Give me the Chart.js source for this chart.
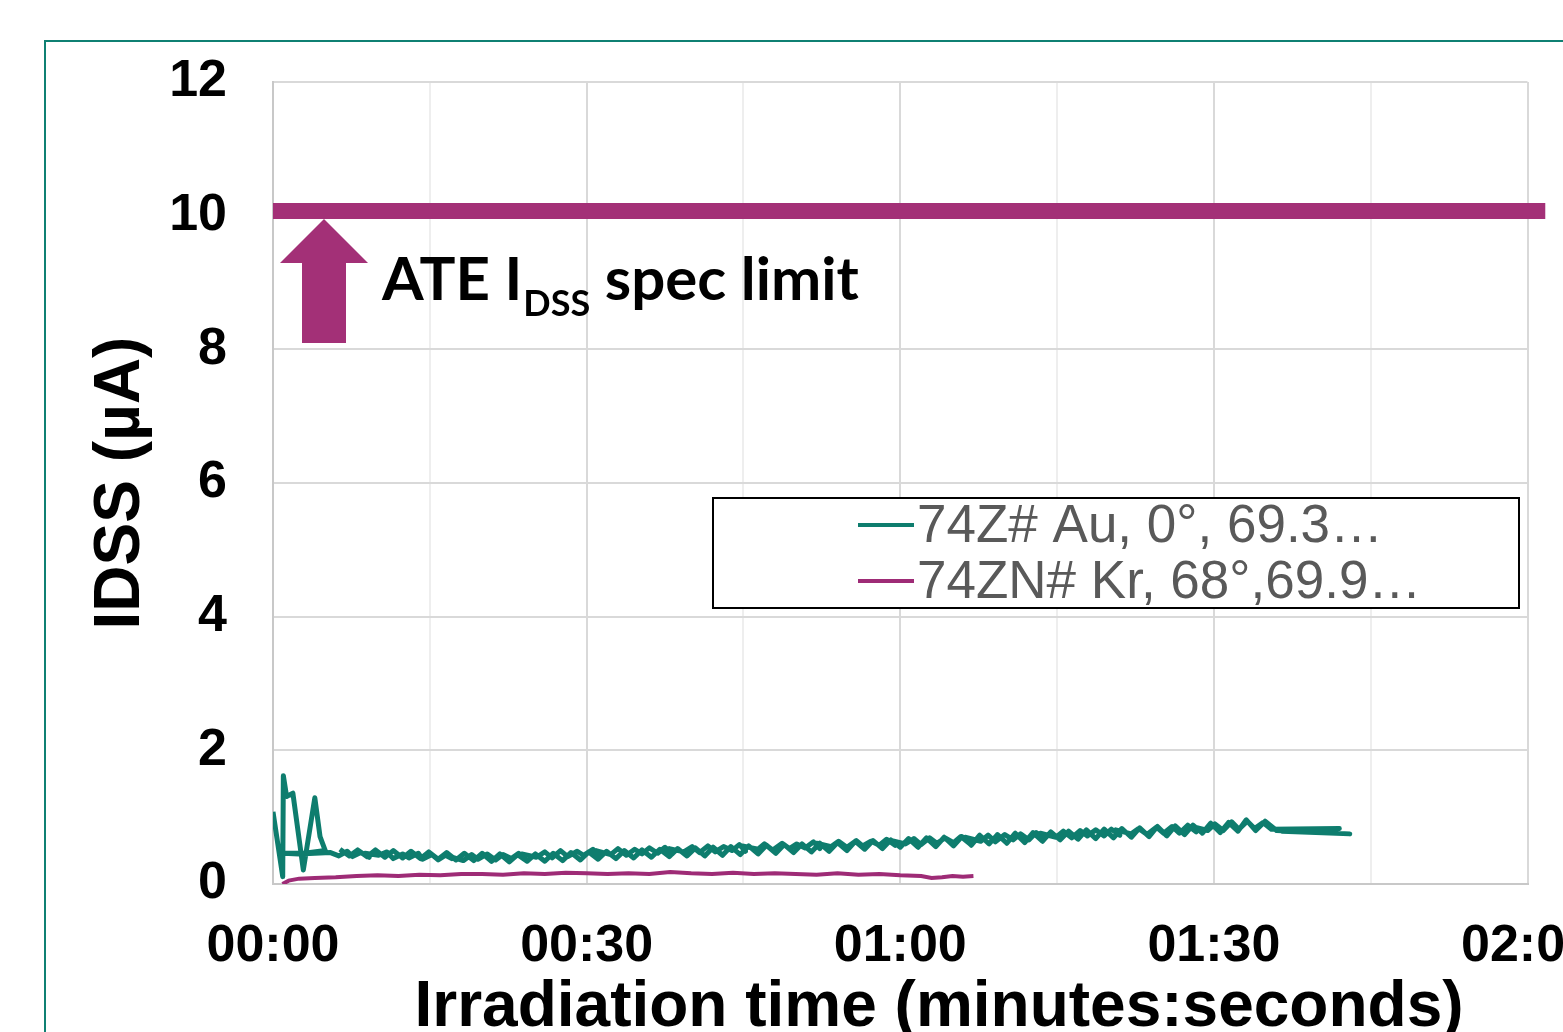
<!DOCTYPE html>
<html>
<head>
<meta charset="utf-8">
<title>IDSS vs irradiation time</title>
<script src="https://cdn.jsdelivr.net/npm/chart.js@4.4.1/dist/chart.umd.min.js"></script>
<style>
  html, body { margin: 0; padding: 0; background: #fff; overflow: hidden; width: 1563px; height: 1032px; }
  #frame { position: absolute; left: 44px; top: 40px; width: 1600px; height: 1100px; border: 2px solid #0f8073; box-sizing: border-box; }
  #wrap { position: absolute; left: 0; top: 0; width: 1625px; height: 1075px; }
</style>
</head>
<body>
<div id="frame"></div>
<div id="wrap"><canvas id="idssChart"></canvas></div>
<script>
// tick labels on the time axis (seconds)
const xTickSeconds = [0, 30, 60, 90, 120];

// 74Z# Au run (trace goes forward, then back over itself)
const greenTime = [0, 0.93, 0.99, 1.3, 1.9, 2.9, 4.0, 4.5, 5.0, 3.0, 1.0, 2.5, 5.5, 6.3, 7.1, 7.6, 8.4, 9.2, 8.8, 10.1,
  10.9, 11.5, 12.4, 13.0, 13.9, 14.3, 15.2, 15.8, 16.7, 17.1, 16.5, 18.2, 19.0, 19.6, 20.5, 21.3, 22.0, 22.8, 23.5, 24.1,
  23.8, 25.2, 26.0, 26.7, 27.5, 28.2, 29.1, 29.7, 30.6, 31.2, 30.9, 32.3, 33.0, 33.8, 34.6, 35.3, 36.0, 36.8, 37.5, 38.2,
  37.9, 39.3, 40.1, 40.8, 41.6, 42.3, 43.1, 43.9, 44.6, 45.2, 44.9, 46.4, 47.0, 47.8, 48.7, 49.4, 50.1, 50.9, 51.7, 52.3,
  52.0, 53.4, 54.1, 54.9, 55.8, 56.4, 57.2, 58.0, 58.7, 59.5, 59.1, 60.5, 61.3, 62.0, 62.8, 63.5, 64.3, 65.1, 65.8, 66.6,
  66.2, 67.7, 68.4, 69.1, 70.0, 70.8, 71.5, 72.3, 73.0, 73.8, 73.4, 74.9, 75.6, 76.4, 77.2, 77.9, 78.7, 79.5, 80.2, 81.0,
  80.6, 82.1, 82.8, 83.6, 84.5, 85.2, 86.0, 86.7, 87.5, 88.3, 87.9, 89.4, 90.1, 90.9, 91.7, 92.4, 93.2, 93.9, 94.7, 95.5,
  102.0, 101.0, 96.5, 103.0, 96.0,
  95.7, 94.9, 94.0, 93.1, 92.3, 91.4, 90.6, 89.7, 88.9, 88.0, 87.2, 86.3, 85.5, 84.6, 83.8, 82.9, 82.1, 81.2, 80.4, 79.5,
  78.7, 77.8, 77.0, 76.1, 75.3, 74.4, 73.6, 72.7, 71.9, 71.0, 70.2, 69.3, 68.5, 67.6, 66.8, 65.9, 65.1, 64.2, 63.4, 62.5,
  61.7, 60.8, 60.0, 59.1, 58.3, 57.4, 56.6, 55.7, 54.9, 54.0, 53.2, 52.3, 51.5, 50.6, 49.8, 48.9, 48.1, 47.2, 46.4, 45.5,
  44.7, 43.8, 43.0, 42.1, 41.3, 40.4, 39.6, 38.7, 37.9, 37.0, 36.2, 35.3, 34.5, 33.6, 32.8, 31.9, 31.1, 30.2, 29.4, 28.5,
  27.7, 26.8, 26.0, 25.1, 24.3, 23.4, 22.6, 21.7, 20.9, 20.0, 19.2, 18.3, 17.5, 16.6, 15.8, 14.9, 14.1, 13.2, 12.4, 11.5,
  10.7, 9.8, 9.0, 8.1, 7.3, 6.4];
const greenIdss = [1.08, 0.11, 1.62, 1.31, 1.36, 0.21, 1.29, 0.71, 0.50, 0.46, 0.46, 0.45, 0.47, 0.42, 0.49, 0.41, 0.47, 0.40, 0.46, 0.43,
  0.48, 0.38, 0.45, 0.39, 0.46, 0.37, 0.44, 0.36, 0.45, 0.38, 0.43, 0.35, 0.44, 0.37, 0.45, 0.36, 0.44, 0.38, 0.46, 0.37,
  0.45, 0.40, 0.48, 0.39, 0.50, 0.41, 0.49, 0.43, 0.52, 0.42, 0.50, 0.44, 0.53, 0.43, 0.52, 0.45, 0.54, 0.46, 0.55, 0.45,
  0.53, 0.48, 0.56, 0.47, 0.57, 0.48, 0.56, 0.50, 0.59, 0.49, 0.57, 0.52, 0.60, 0.51, 0.61, 0.53, 0.60, 0.54, 0.63, 0.53,
  0.61, 0.56, 0.64, 0.55, 0.65, 0.57, 0.64, 0.58, 0.67, 0.58, 0.65, 0.60, 0.68, 0.59, 0.69, 0.61, 0.69, 0.62, 0.71, 0.61,
  0.70, 0.64, 0.73, 0.63, 0.74, 0.66, 0.75, 0.66, 0.77, 0.68, 0.76, 0.70, 0.79, 0.69, 0.80, 0.72, 0.81, 0.72, 0.82, 0.73,
  0.81, 0.75, 0.83, 0.74, 0.85, 0.76, 0.86, 0.76, 0.88, 0.78, 0.86, 0.80, 0.90, 0.80, 0.93, 0.82, 0.94, 0.83, 0.92, 0.82,
  0.83, 0.81, 0.79, 0.75, 0.80,
  0.84, 0.94, 0.80, 0.96, 0.79, 0.92, 0.77, 0.91, 0.76, 0.88, 0.74, 0.87, 0.72, 0.86, 0.71, 0.84, 0.70, 0.83, 0.69, 0.82,
  0.68, 0.81, 0.67, 0.79, 0.66, 0.78, 0.64, 0.77, 0.62, 0.76, 0.61, 0.74, 0.60, 0.73, 0.58, 0.71, 0.57, 0.70, 0.56, 0.69,
  0.55, 0.68, 0.55, 0.66, 0.53, 0.65, 0.52, 0.64, 0.50, 0.62, 0.49, 0.61, 0.48, 0.60, 0.47, 0.59, 0.46, 0.58, 0.45, 0.57,
  0.44, 0.56, 0.43, 0.55, 0.42, 0.54, 0.42, 0.53, 0.41, 0.52, 0.40, 0.51, 0.39, 0.50, 0.38, 0.49, 0.37, 0.48, 0.36, 0.47,
  0.35, 0.46, 0.34, 0.45, 0.34, 0.44, 0.33, 0.45, 0.34, 0.46, 0.35, 0.46, 0.36, 0.47, 0.37, 0.48, 0.38, 0.49, 0.39, 0.50,
  0.40, 0.51, 0.41, 0.51, 0.42, 0.52];

// 74ZN# Kr run
const purpleTime = [0.9, 1.5, 2.5, 4, 6, 8, 10, 12, 14, 16, 18, 20, 22, 24, 26, 28, 30, 32, 34, 36,
  38, 40, 42, 44, 46, 48, 50, 52, 54, 56, 58, 60, 62, 63, 64, 65, 66, 67];
const purpleIdss = [0.0, 0.05, 0.08, 0.09, 0.10, 0.12, 0.13, 0.12, 0.14, 0.13, 0.15, 0.15, 0.14, 0.16, 0.15, 0.17, 0.16, 0.15, 0.16, 0.15,
  0.18, 0.16, 0.15, 0.17, 0.15, 0.16, 0.15, 0.14, 0.16, 0.14, 0.15, 0.13, 0.12, 0.09, 0.10, 0.12, 0.11, 0.12];

// ATE spec limit band
const limitTime = [0, 121.7];
const limitIdss = [10.07, 10.07];

const fontFamily = '"Liberation Sans", Arial, sans-serif';

function toPoints(xs, ys) {
    return xs.map((x, i) => ({ x: x, y: ys[i] }));
}

function mmss(sec) {
    const m = Math.floor(sec / 60);
    const s = sec % 60;
    return String(m).padStart(2, '0') + ':' + String(s).padStart(2, '0');
}

// legend, spec-limit arrow + label, x axis title
const overlay = {
    id: 'overlay',
    afterDraw(chart) {
        const { ctx, chartArea, scales } = chart;
        const left = chartArea.left;
        ctx.save();

        // arrow under the limit band
        const tip = scales.y.getPixelForValue(limitIdss[0]) + 8;
        const cx = left + 51;
        ctx.fillStyle = '#a33077';
        ctx.beginPath();
        ctx.moveTo(cx, tip);
        ctx.lineTo(cx + 44, tip + 44);
        ctx.lineTo(cx + 22, tip + 44);
        ctx.lineTo(cx + 22, tip + 124);
        ctx.lineTo(cx - 22, tip + 124);
        ctx.lineTo(cx - 22, tip + 44);
        ctx.lineTo(cx - 44, tip + 44);
        ctx.closePath();
        ctx.fill();

        // "ATE IDSS spec limit"
        ctx.fillStyle = '#000';
        ctx.textBaseline = 'alphabetic';
        ctx.textAlign = 'left';
        const big = 'bold 60px Lato, "Open Sans", sans-serif';
        const small = 'bold 36px Lato, "Open Sans", sans-serif';
        let tx = left + 109;
        const base = tip + 81;
        ctx.font = big;
        ctx.fillText('ATE I', tx, base);
        tx += ctx.measureText('ATE I').width + 1;
        ctx.font = small;
        ctx.fillText('DSS', tx, base + 16);
        tx += ctx.measureText('DSS').width;
        ctx.font = big;
        ctx.fillText(' spec limit', tx, base);

        // legend box
        const bx = 713, by = 498, bw = 806, bh = 110;
        ctx.lineWidth = 2;
        ctx.strokeStyle = '#000';
        ctx.fillStyle = '#fff';
        ctx.fillRect(bx, by, bw, bh);
        ctx.strokeRect(bx, by, bw, bh);
        ctx.font = '53px ' + fontFamily;
        ctx.textBaseline = 'middle';
        [0, 1].forEach(i => {
            const ds = chart.data.datasets[i];
            const ry = by + 27 + i * 56;
            ctx.strokeStyle = ds.borderColor;
            ctx.lineWidth = 4;
            ctx.beginPath();
            ctx.moveTo(858, ry);
            ctx.lineTo(914, ry);
            ctx.stroke();
            ctx.fillStyle = '#595959';
            ctx.fillText(ds.label, 917, ry + 2);
        });

        // x axis title
        ctx.fillStyle = '#000';
        ctx.font = 'bold 64px ' + fontFamily;
        ctx.textAlign = 'center';
        ctx.fillText('Irradiation time (minutes:seconds)', 939, 1008);
        ctx.restore();
    }
};

const ctx = document.getElementById('idssChart').getContext('2d');
const idssChart = new Chart(ctx, {
    type: 'scatter',
    data: {
        datasets: [{
            label: '74Z# Au, 0°, 69.3…',
            data: toPoints(greenTime, greenIdss),
            borderColor: '#0e7d6e',
            backgroundColor: '#0e7d6e',
            borderWidth: 5,
            borderJoinStyle: 'round',
            showLine: true,
            pointRadius: 0,
            tension: 0
        }, {
            label: '74ZN# Kr, 68°,69.9…',
            data: toPoints(purpleTime, purpleIdss),
            borderColor: '#9e2b76',
            backgroundColor: '#9e2b76',
            borderWidth: 4,
            showLine: true,
            pointRadius: 0,
            tension: 0
        }, {
            label: 'ATE IDSS spec limit',
            data: toPoints(limitTime, limitIdss),
            borderColor: '#a33077',
            backgroundColor: '#a33077',
            borderWidth: 16,
            borderCapStyle: 'butt',
            showLine: true,
            pointRadius: 0,
            clip: false
        }]
    },
    options: {
        responsive: true,
        maintainAspectRatio: false,
        animation: false,
        layout: {
            padding: { left: 0, top: 82, right: 0, bottom: 0 }
        },
        scales: {
            x: {
                type: 'linear',
                min: 0,
                max: 120,
                afterFit: s => { s.height = 191; },
                ticks: {
                    stepSize: 15,
                    autoSkip: false,
                    maxRotation: 0,
                    padding: 31,
                    color: '#000',
                    font: { family: fontFamily, size: 52, weight: 'bold' },
                    callback: v => xTickSeconds.includes(v) ? mmss(v) : ''
                },
                grid: {
                    color: c => (c.tick && c.tick.value % 30 === 0) ? '#d9d9d9' : '#eeeeee',
                    lineWidth: 2,
                    drawTicks: false
                },
                border: { color: '#c8c8c8', width: 2 }
            },
            y: {
                min: 0,
                max: 12,
                afterFit: s => { s.width = 273; },
                ticks: {
                    stepSize: 2,
                    padding: 46,
                    color: '#000',
                    font: { family: fontFamily, size: 52, weight: 'bold' }
                },
                grid: {
                    color: '#d9d9d9',
                    lineWidth: 2,
                    drawTicks: false
                },
                border: { color: '#c8c8c8', width: 2 },
                title: {
                    display: true,
                    text: 'IDSS (µA)',
                    color: '#000',
                    font: { family: fontFamily, size: 64, weight: 'bold' },
                    padding: { top: 83, bottom: 0 }
                }
            }
        },
        plugins: {
            legend: { display: false },
            tooltip: { enabled: false }
        }
    },
    plugins: [overlay]
});
</script>
</body>
</html>
